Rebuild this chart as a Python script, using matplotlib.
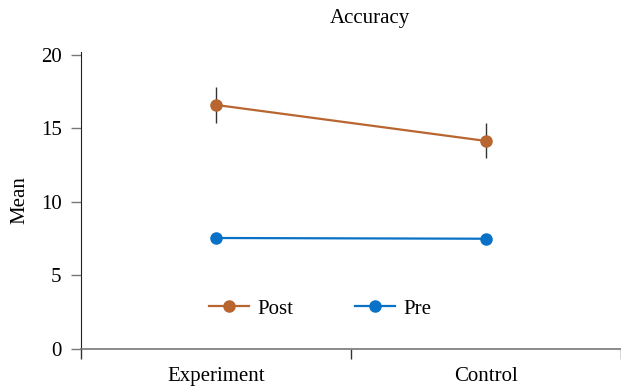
import matplotlib
matplotlib.use("Agg")
import matplotlib.pyplot as plt
import numpy as np

groups = ["Experiment", "Control"]
post_mean = [16.6, 14.15]
post_lo = [15.4, 13.0]
post_hi = [17.8, 15.4]
pre_mean = [7.55, 7.5]
yticks = [0, 5, 10, 15, 20]

POST_COLOR = "#B8652F"
PRE_COLOR = "#0A72C6"
FONT = "Liberation Serif"
FS = 15

plt.rcParams["font.family"] = FONT

fig = plt.figure(figsize=(6.21, 3.88), dpi=100)
ax = fig.add_axes([81 / 621, 39 / 388, 540 / 621, 297 / 388])

x = np.arange(len(groups))
ax.vlines(x, post_lo, post_hi, color="#333333", linewidth=1.0, zorder=2)
ax.plot(x, post_mean, color=POST_COLOR, marker="o", markersize=8,
        linewidth=1.6, label="Post", zorder=3)
ax.plot(x, pre_mean, color=PRE_COLOR, marker="o", markersize=8,
        linewidth=1.6, label="Pre", zorder=3)

ax.set_xlim(-0.5, 1.5)
ax.set_ylim(0, 20.2)
ax.set_yticks(yticks)
ax.set_yticklabels([str(t) for t in yticks], fontsize=FS)
ax.tick_params(axis="y", length=7, width=1, color="#777777", pad=7)

ax.set_xticks(x)
ax.set_xticklabels(groups, fontsize=FS)
ax.set_xticks([-0.5, 0.5, 1.5], minor=True)
ax.tick_params(axis="x", which="major", length=0, pad=13)
ax.tick_params(axis="x", which="minor", length=7, width=1, color="#333333")

for side in ["top", "right"]:
    ax.spines[side].set_visible(False)
ax.spines["left"].set_color("#222222")
ax.spines["bottom"].set_color("#777777")
ax.spines["bottom"].set_linewidth(1.2)

ax.set_ylabel("Mean", fontsize=FS, labelpad=8)

fig.text(370 / 621, 1 - 18 / 388, "Accuracy", ha="center", va="center",
         fontsize=FS)

ax.legend(loc="center", bbox_to_anchor=(0.443, 0.135), ncol=2, frameon=False,
          fontsize=FS, handlelength=1.9, columnspacing=3.0,
          handletextpad=0.4)

fig.savefig("out.png", dpi=100)
